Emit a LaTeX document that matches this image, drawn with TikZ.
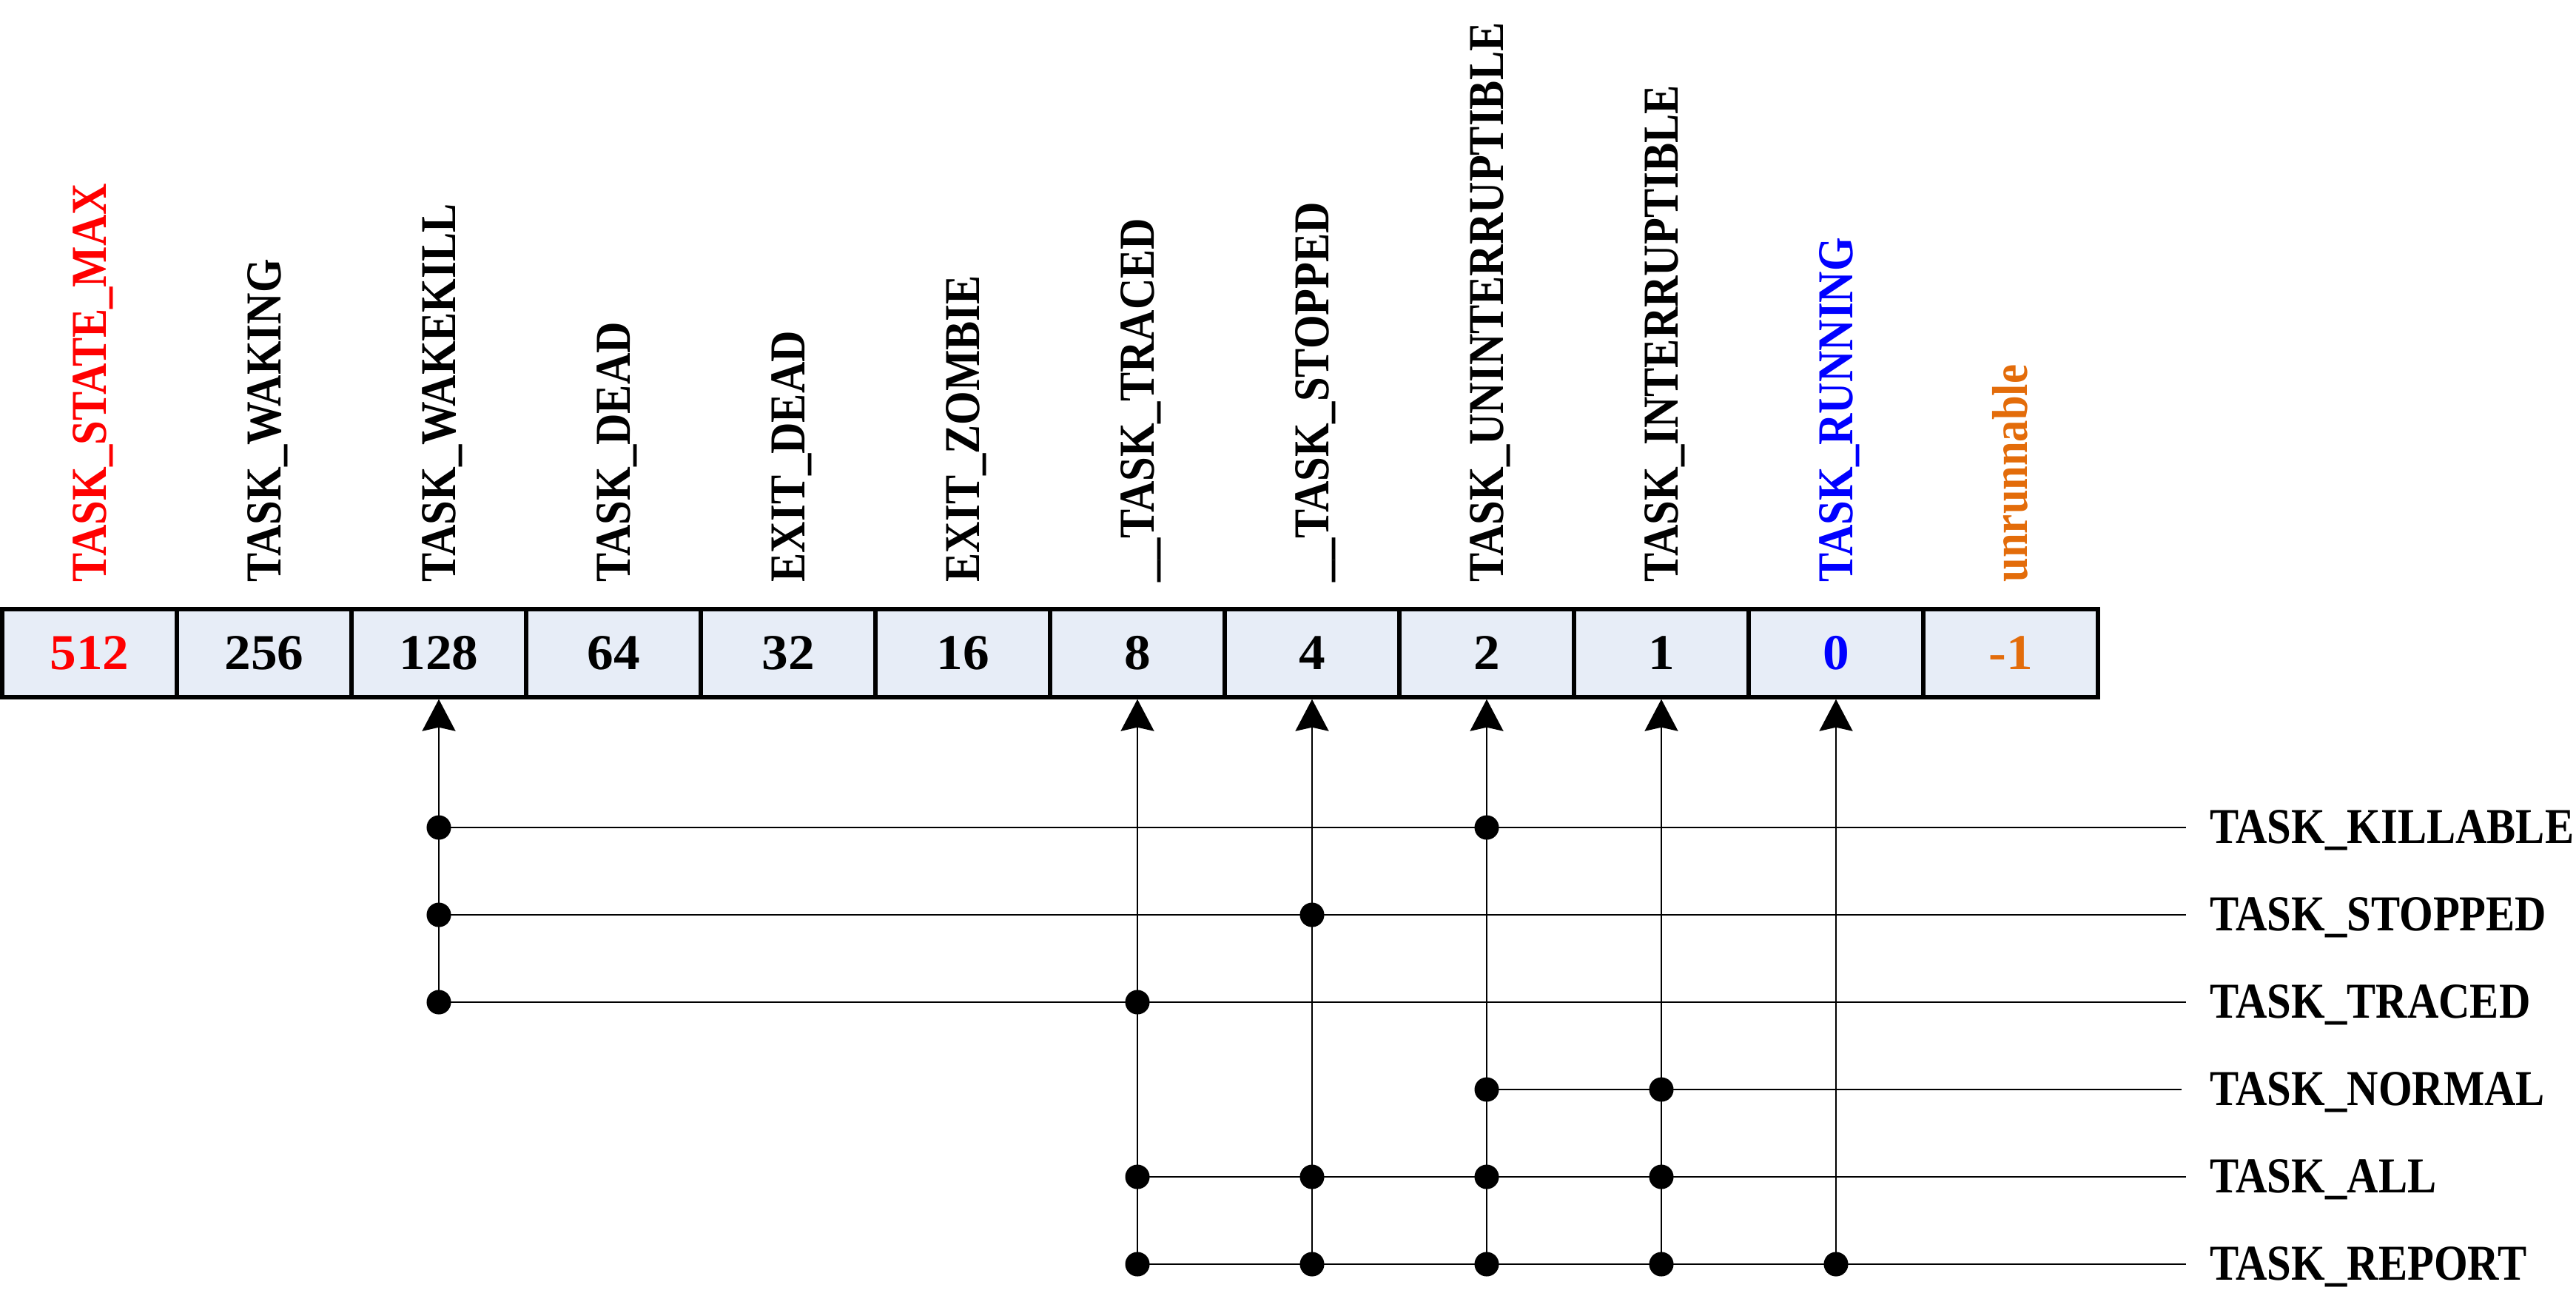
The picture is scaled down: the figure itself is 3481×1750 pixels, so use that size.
\documentclass[tikz,border=0pt]{standalone}
\usepackage{fontspec}
\setmainfont{Liberation Serif}
\newfontfamily\lblfont{Liberation Serif}[FakeStretch=0.865]
\newfontfamily\numfont{Liberation Serif}[FakeStretch=1.05]
\usetikzlibrary{arrows.meta}
\definecolor{cellfill}{RGB}{231,237,247}
\definecolor{runorange}{RGB}{227,108,10}
\definecolor{maxred}{RGB}{255,0,0}
\definecolor{runblue}{RGB}{0,0,255}
\begin{document}
\begin{tikzpicture}[x=0.01cm,y=-0.01cm,
  cell/.style={draw=black, line width=1.5pt, fill=cellfill, minimum width=2.36cm,
    minimum height=1.19cm, inner sep=0pt,
    font=\numfont\bfseries\fontsize{19.3pt}{23pt}\selectfont},
  toplbl/.style={rotate=90, anchor=base west, inner sep=0pt,
    font=\lblfont\bfseries\fontsize{19.3pt}{23pt}\selectfont},
  rowlbl/.style={anchor=base west, inner sep=0pt,
    font=\lblfont\bfseries\fontsize{19.3pt}{23pt}\selectfont},
  dot/.style={circle, fill=black, inner sep=0pt, minimum size=0.33cm},
  wire/.style={line width=0.6pt},
  arr/.style={wire, -{Stealth[length=0.43cm,width=0.45cm,inset=0.05cm]}}]
\useasboundingbox (0,0) rectangle (3481,1750);

% cells
\node[cell, text=maxred] (c0) at (121,882.5) {512};
\node[cell] (c1) at (357,882.5) {256};
\node[cell] (c2) at (593,882.5) {128};
\node[cell] (c3) at (829,882.5) {64};
\node[cell] (c4) at (1065,882.5) {32};
\node[cell] (c5) at (1301,882.5) {16};
\node[cell] (c6) at (1537,882.5) {8};
\node[cell] (c7) at (1773,882.5) {4};
\node[cell] (c8) at (2009,882.5) {2};
\node[cell] (c9) at (2245,882.5) {1};
\node[cell, text=runblue] (c10) at (2481,882.5) {0};
\node[cell, text=runorange] (c11) at (2717,882.5) {-1};

% top labels
\node[toplbl, text=maxred] (l0) at (143.5,787) {TASK\_STATE\_MAX};
\node[toplbl] (l1) at (379.5,787) {TASK\_WAKING};
\node[toplbl] (l2) at (615.5,787) {TASK\_WAKEKILL};
\node[toplbl] (l3) at (851.5,787) {TASK\_DEAD};
\node[toplbl] (l4) at (1087.5,787) {EXIT\_DEAD};
\node[toplbl] (l5) at (1323.5,787) {EXIT\_ZOMBIE};
\node[toplbl] (l6) at (1559.5,787) {\_\_TASK\_TRACED};
\node[toplbl] (l7) at (1795.5,787) {\_\_TASK\_STOPPED};
\node[toplbl] (l8) at (2031.5,787) {TASK\_UNINTERRUPTIBLE};
\node[toplbl] (l9) at (2267.5,787) {TASK\_INTERRUPTIBLE};
\node[toplbl, text=runblue] (l10) at (2503.5,787) {TASK\_RUNNING};
\node[toplbl, text=runorange] (l11) at (2739.5,787) {unrunnable};

% row ends and labels
\coordinate (ek) at (2954,1118);
\coordinate (es) at (2954,1236);
\coordinate (et) at (2954,1354);
\coordinate (en) at (2948,1472);
\coordinate (ea) at (2954,1590);
\coordinate (er) at (2954,1708);
\node[rowlbl] (lk) at (2986,1139) {TASK\_KILLABLE};
\node[rowlbl] (ls) at (2986,1257) {TASK\_STOPPED};
\node[rowlbl] (lt) at (2986,1375) {TASK\_TRACED};
\node[rowlbl] (ln) at (2986,1493) {TASK\_NORMAL};
\node[rowlbl] (la) at (2986,1611) {TASK\_ALL};
\node[rowlbl] (lr) at (2986,1729) {TASK\_REPORT};

% junction dots
\node[dot] (kA) at (593,1118) {};
\node[dot] (kB) at (2009,1118) {};
\node[dot] (sA) at (593,1236) {};
\node[dot] (sB) at (1773,1236) {};
\node[dot] (tA) at (593,1354) {};
\node[dot] (tB) at (1537,1354) {};
\node[dot] (nA) at (2009,1472) {};
\node[dot] (nB) at (2245,1472) {};
\node[dot] (aA) at (1537,1590) {};
\node[dot] (aB) at (1773,1590) {};
\node[dot] (aC) at (2009,1590) {};
\node[dot] (aD) at (2245,1590) {};
\node[dot] (rA) at (1537,1708) {};
\node[dot] (rB) at (1773,1708) {};
\node[dot] (rC) at (2009,1708) {};
\node[dot] (rD) at (2245,1708) {};
\node[dot] (rE) at (2481,1708) {};

% horizontal wires
\draw[wire] (kA.center) -- (ek);
\draw[wire] (sA.center) -- (es);
\draw[wire] (tA.center) -- (et);
\draw[wire] (nA.center) -- (en);
\draw[wire] (aA.center) -- (ea);
\draw[wire] (rA.center) -- (er);

% vertical arrows
\draw[arr] (tA.center) -- (c2.south);
\draw[arr] (rA.center) -- (c6.south);
\draw[arr] (rB.center) -- (c7.south);
\draw[arr] (rC.center) -- (c8.south);
\draw[arr] (rD.center) -- (c9.south);
\draw[arr] (rE.center) -- (c10.south);
\end{tikzpicture}
\end{document}
